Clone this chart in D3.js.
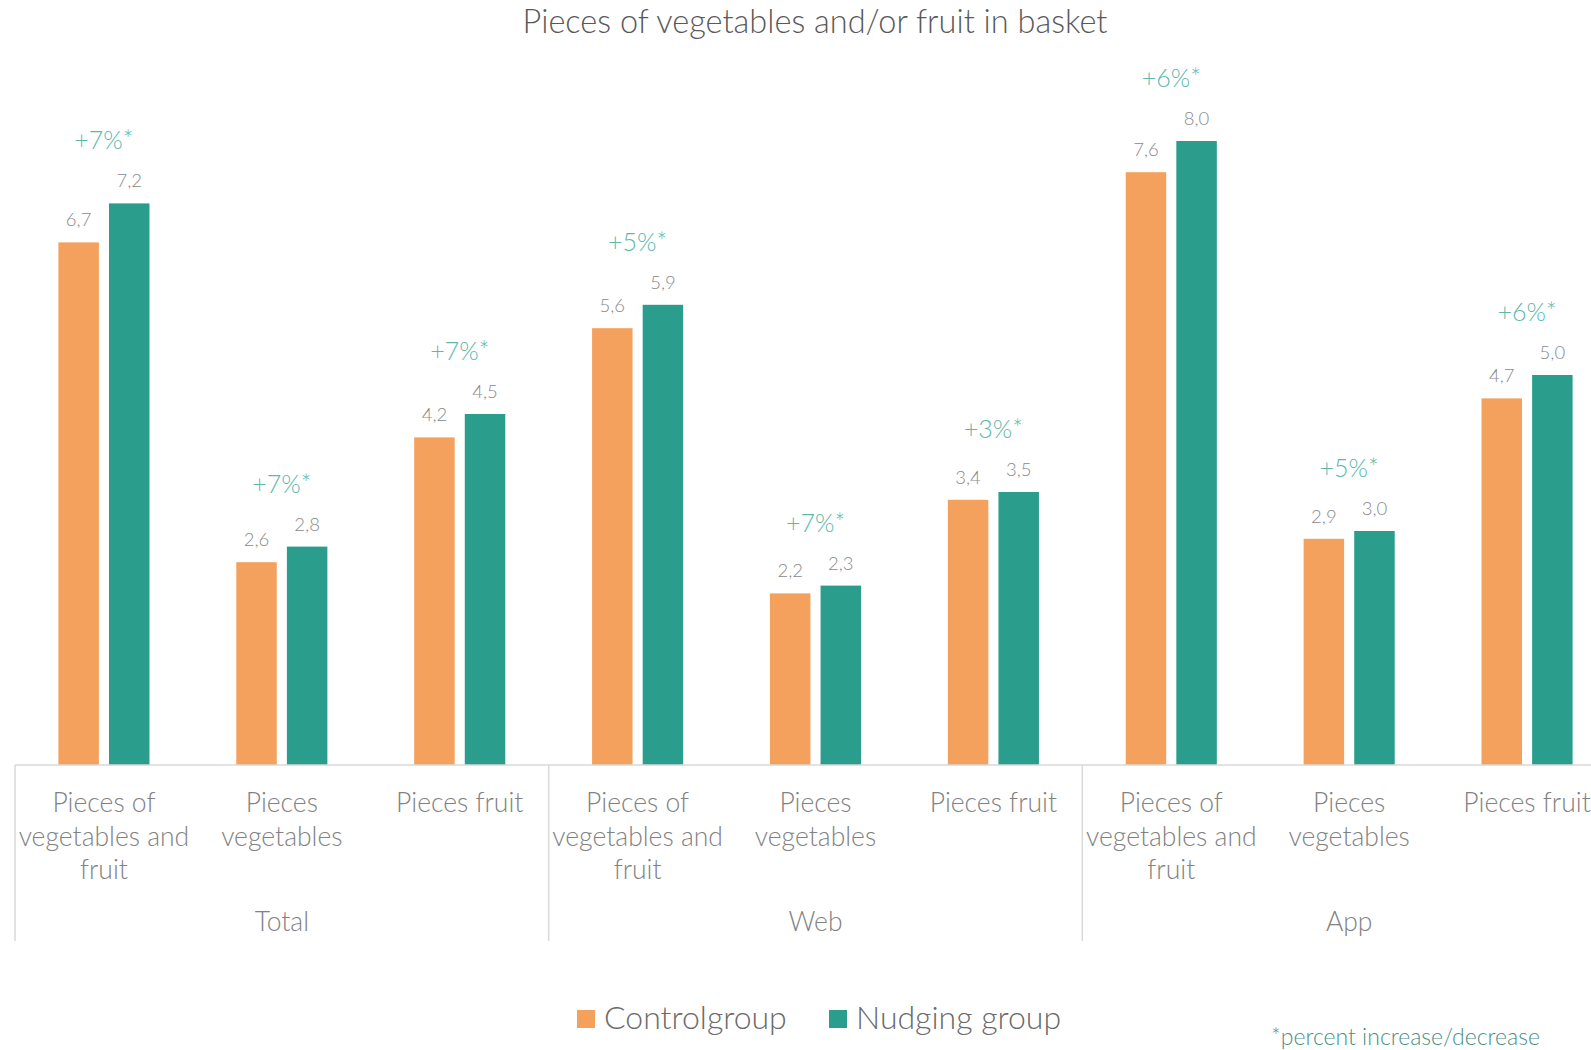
<!DOCTYPE html>
<html>
<head>
<meta charset="utf-8">
<script src="https://cdn.jsdelivr.net/npm/d3@7"></script>
<style>
  html, body { margin: 0; padding: 0; background: #ffffff; }
  svg { display: block; font-family: "Lato", "Open Sans", sans-serif; }
</style>
</head>
<body>
<svg id="chart" width="1591" height="1050"></svg>
<script>
// Channel groups and the three measures shown inside each one
const groups = ["Total", "Web", "App"];
const measures = [
  ["Pieces of", "vegetables and", "fruit"],
  ["Pieces", "vegetables"],
  ["Pieces fruit"]
];
const seriesNames = ["Controlgroup", "Nudging group"];

// Average pieces per basket, one entry per group × measure
const controlValues = [6.7, 2.6, 4.2, 5.6, 2.2, 3.4, 7.6, 2.9, 4.7];
const nudgingValues = [7.2, 2.8, 4.5, 5.9, 2.3, 3.5, 8.0, 3.0, 5.0];
const percentChange = ["+7%*", "+7%*", "+7%*", "+5%*", "+7%*", "+3%*", "+6%*", "+5%*", "+6%*"];

const colors = { "Controlgroup": "#F4A15D", "Nudging group": "#2A9D8C" };

const svg = d3.select("#chart");

// one slot per group × measure, in reading order
const slots = [];
groups.forEach((g, gi) => measures.forEach((m, mi) => {
  const i = gi * measures.length + mi;
  slots.push({ key: g + "|" + mi, group: g, lines: m, i,
    values: [
      { series: seriesNames[0], value: controlValues[i] },
      { series: seriesNames[1], value: nudgingValues[i] }
    ],
    pct: percentChange[i] });
}));

const plotLeft = 15, plotRight = 1616, baseY = 765;

const x0 = d3.scaleBand()
  .domain(slots.map(d => d.key))
  .range([plotLeft, plotRight])
  .paddingInner(0.488)
  .paddingOuter(0.244);

const x1 = d3.scaleBand()
  .domain(seriesNames)
  .range([0, x0.bandwidth()])
  .paddingInner(0.2);

const y = d3.scaleLinear().domain([0, 8]).range([baseY, 141]);

// title
svg.append("text")
  .attr("x", 815).attr("y", 33)
  .attr("text-anchor", "middle")
  .attr("font-size", 32.5).attr("font-weight", 300)
  .attr("fill", "#595959")
  .text("Pieces of vegetables and/or fruit in basket");

// bars
const slotG = svg.append("g").selectAll("g")
  .data(slots).join("g")
  .attr("transform", d => `translate(${x0(d.key)},0)`);

slotG.selectAll("rect")
  .data(d => d.values).join("rect")
  .attr("x", d => x1(d.series))
  .attr("y", d => y(d.value))
  .attr("width", x1.bandwidth())
  .attr("height", d => baseY - y(d.value))
  .attr("fill", d => colors[d.series]);

// value labels
const fmt = v => d3.format(".1f")(v).replace(".", ",");
slotG.selectAll("text.val")
  .data(d => d.values).join("text")
  .attr("class", "val")
  .attr("x", d => x1(d.series) + x1.bandwidth() / 2)
  .attr("y", d => y(d.value) - 16)
  .attr("text-anchor", "middle")
  .attr("font-size", 18.5).attr("font-weight", 300)
  .attr("fill", "#8A8A8A")
  .text(d => fmt(d.value));

// percent change above each pair
slotG.append("text")
  .attr("x", x0.bandwidth() / 2)
  .attr("y", d => y(d.values[1].value) - 54)
  .attr("text-anchor", "middle")
  .attr("font-size", 25).attr("font-weight", 300)
  .attr("fill", "#5BB8AA")
  .text(d => d.pct);

// axis: baseline and group separators
const axisG = svg.append("g").attr("stroke", "#D9D9D9").attr("stroke-width", 1.5);
axisG.append("line")
  .attr("x1", plotLeft).attr("x2", plotRight)
  .attr("y1", baseY).attr("y2", baseY);

const groupEdges = groups.map((g, gi) => x0(slots[gi * measures.length].key) - x0.step() * x0.paddingOuter());
groupEdges.push(plotRight);
axisG.selectAll("line.sep")
  .data(groupEdges).join("line")
  .attr("class", "sep")
  .attr("x1", d => d).attr("x2", d => d)
  .attr("y1", baseY).attr("y2", 941);

// measure labels
const catLabel = svg.append("g").selectAll("text")
  .data(slots).join("text")
  .attr("text-anchor", "middle")
  .attr("font-size", 26.5).attr("font-weight", 300)
  .attr("fill", "#828282");
catLabel.selectAll("tspan")
  .data(d => d.lines.map(l => ({ l, cx: x0(d.key) + x0.bandwidth() / 2 })))
  .join("tspan")
  .attr("x", d => d.cx)
  .attr("y", (d, i) => 812 + i * 33.5)
  .text(d => d.l);

// group labels
svg.append("g").selectAll("text")
  .data(groups).join("text")
  .attr("x", (d, i) => (groupEdges[i] + groupEdges[i + 1]) / 2)
  .attr("y", 931)
  .attr("text-anchor", "middle")
  .attr("font-size", 26.5).attr("font-weight", 300)
  .attr("fill", "#828282")
  .text(d => d);

// legend
const legendX = [577, 829];
const leg = svg.append("g").selectAll("g")
  .data(seriesNames).join("g")
  .attr("transform", (d, i) => `translate(${legendX[i]},1010)`);
leg.append("rect")
  .attr("width", 18).attr("height", 18)
  .attr("fill", d => colors[d]);
leg.append("text")
  .attr("x", 27).attr("y", 19)
  .attr("font-size", 32).attr("font-weight", 300)
  .attr("fill", "#6A6A6A")
  .text(d => d);

// footnote
svg.append("text")
  .attr("x", 1540).attr("y", 1045)
  .attr("text-anchor", "end")
  .attr("font-size", 23).attr("font-weight", 300)
  .attr("fill", "#4A8F87")
  .text("*percent increase/decrease");
</script>
</body>
</html>
